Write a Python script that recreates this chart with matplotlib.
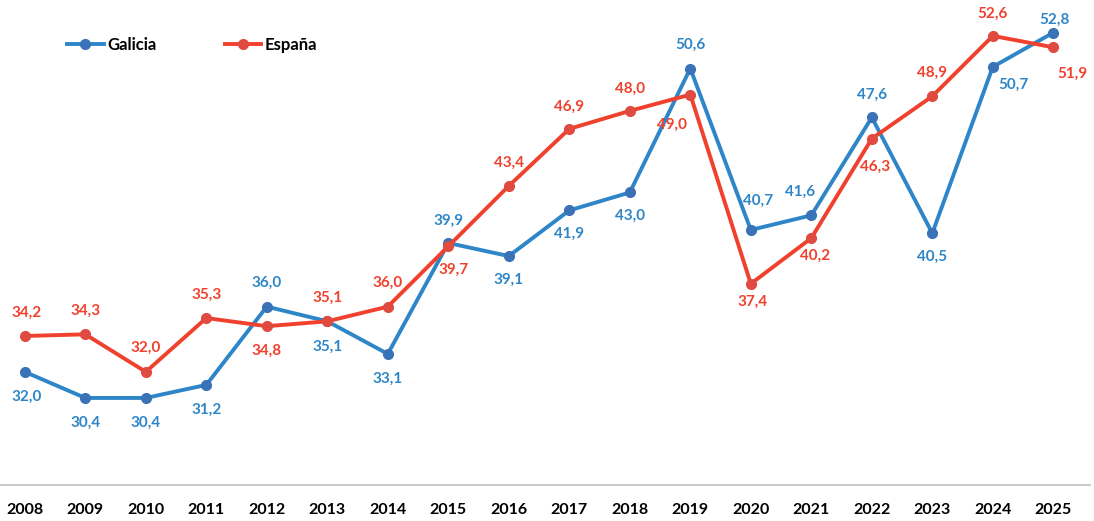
import matplotlib
matplotlib.use("Agg")
import matplotlib.pyplot as plt

years = [2008, 2009, 2010, 2011, 2012, 2013, 2014, 2015, 2016, 2017, 2018, 2019, 2020, 2021, 2022, 2023, 2024, 2025]
galicia = [32.0, 30.4, 30.4, 31.2, 36.0, 35.1, 33.1, 39.9, 39.1, 41.9, 43.0, 50.6, 40.7, 41.6, 47.6, 40.5, 50.7, 52.8]
espana = [34.2, 34.3, 32.0, 35.3, 34.8, 35.1, 36.0, 39.7, 43.4, 46.9, 48.0, 49.0, 37.4, 40.2, 46.3, 48.9, 52.6, 51.9]

# label offsets in points (dx, dy)
gal_off = [(1, -18), (0, -18), (0, -18), (0, -18), (0, 17), (0, -18), (0, -18), (0, 16), (0, -17), (0, -17),
           (0, -17), (0, 17), (5, 21), (-8, 17), (0, 16), (0, -17), (15, -13), (1, 9)]
esp_off = [(1, 17), (0, 17), (0, 17), (0, 17), (0, -18), (0, 17), (0, 17), (4, -17), (0, 17), (0, 16),
           (0, 16), (-13, -22), (1, -13), (3, -13), (2, -20), (0, 17), (0, 16), (14, -19)]

blue = "#2E86C8"
blue_m = "#3A72B8"
red = "#F0412E"
red_m = "#E04A40"

plt.rcParams['font.family'] = ['Lato', 'DejaVu Sans']

fig = plt.figure(figsize=(10.94, 5.21), dpi=100)
ax = fig.add_axes([0.0, 0.069, 0.996, 0.931])
ax.set_xlim(2008 - 0.41, 2025 + 0.6)
ax.set_ylim(25.06, 54.8)

ax.plot(years, galicia, color=blue, lw=2.8, marker='o', ms=7, mfc=blue_m, mec=blue_m, label='Galicia', zorder=3)
ax.plot(years, espana, color=red, lw=2.8, marker='o', ms=7, mfc=red_m, mec=red_m, label='España', zorder=4)

for x, v, (dx, dy) in zip(years, galicia, gal_off):
    ax.annotate(f"{v:.1f}".replace('.', ','), (x, v), xytext=(dx, dy), textcoords='offset points',
                ha='center', va='center', color=blue, fontsize=11, fontweight='bold')
for x, v, (dx, dy) in zip(years, espana, esp_off):
    ax.annotate(f"{v:.1f}".replace('.', ','), (x, v), xytext=(dx, dy), textcoords='offset points',
                ha='center', va='center', color=red, fontsize=11, fontweight='bold')

for s in ['top', 'right', 'left']:
    ax.spines[s].set_visible(False)
ax.spines['bottom'].set_color('#BFBFBF')
ax.spines['bottom'].set_linewidth(1.2)
ax.set_yticks([])
ax.set_xticks(years)
ax.set_xticklabels([str(y) for y in years], fontsize=11.5, fontweight='bold')
ax.tick_params(axis='x', length=0, pad=13)

leg = fig.legend(loc='center left', bbox_to_anchor=(67 / 1094, 1 - 45 / 521), bbox_transform=fig.transFigure,
                 ncol=2, frameon=False, prop={'weight': 'bold', 'size': 12}, columnspacing=4.1,
                 handlelength=2.2, handletextpad=0.2, borderpad=0, borderaxespad=0)

fig.savefig("out.png", dpi=100)
